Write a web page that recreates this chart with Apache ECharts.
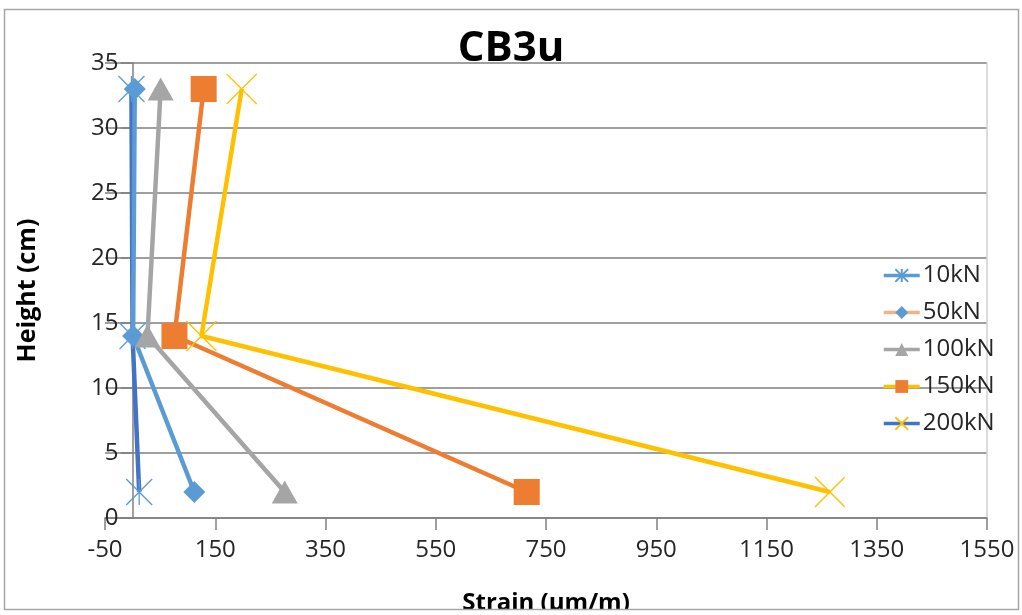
<!DOCTYPE html>
<html>
<head>
<meta charset="utf-8">
<script src="https://cdn.jsdelivr.net/npm/echarts@6/dist/echarts.min.js"></script>
<style>
html,body{margin:0;padding:0;background:#fff;}
#chart{width:1022px;height:615px;}
</style>
</head>
<body>
<div id="chart"></div>
<script>
// ---- data ----
const heights = [2, 14, 33];
const strain10kN  = [12, 0, -2];
const strain50kN  = [112, 1, 4];
const strain100kN = [276, 27, 51];
const strain150kN = [715, 76, 129];
const strain200kN = [1265, 125, 198];
const seriesNames = ['10kN', '50kN', '100kN', '150kN', '200kN'];
const xTicks = {min: -50, max: 1550, interval: 200};
const yTicks = {min: 0, max: 35, interval: 5};

const FONT = '"Open Sans", "Noto Sans", sans-serif';
const C_DARKBLUE = '#4472C4', C_BLUE = '#5B9BD5', C_GRAY = '#A5A5A5', C_ORANGE = '#ED7D31', C_YELLOW = '#FFC000';

function pts(xs) { return xs.map((x, i) => [x, heights[i]]); }

const ASTERISK = 'path://M5,0 L5,10 M0,0 L10,10 M10,0 L0,10';
const XMARK = 'path://M0,0 L10,10 M10,0 L0,10';
const LW = 4.5;

const series = [
  {name: seriesNames[0], data: pts(strain10kN), symbol: ASTERISK, symbolSize: 26,
   lineStyle: {color: C_DARKBLUE, width: LW},
   itemStyle: {color: C_BLUE, borderColor: C_BLUE, borderWidth: 1.3}},
  {name: seriesNames[1], data: pts(strain50kN), symbol: 'diamond', symbolSize: 22,
   lineStyle: {color: C_BLUE, width: LW},
   itemStyle: {color: C_BLUE}},
  {name: seriesNames[2], data: pts(strain100kN), symbol: 'triangle', symbolSize: [26, 23],
   lineStyle: {color: C_GRAY, width: LW},
   itemStyle: {color: C_GRAY}},
  {name: seriesNames[3], data: pts(strain150kN), symbol: 'rect', symbolSize: 26,
   lineStyle: {color: C_ORANGE, width: LW},
   itemStyle: {color: C_ORANGE}},
  {name: seriesNames[4], data: pts(strain200kN), symbol: XMARK, symbolSize: 30,
   lineStyle: {color: C_YELLOW, width: LW},
   itemStyle: {color: C_YELLOW, borderColor: C_YELLOW, borderWidth: 1.3}}
].map(s => Object.assign({type: 'line', showSymbol: true, animation: false, z: 3}, s));

// legend line colours as shown in the reference legend
const legendLineColors = [C_BLUE, '#F4B183', C_GRAY, C_YELLOW, C_DARKBLUE];

const chart = echarts.init(document.getElementById('chart'));
const option = {
  backgroundColor: '#fff',
  animation: false,
  title: {
    text: 'CB3u', left: 'center', top: 23,
    textStyle: {fontFamily: FONT, fontSize: 42, fontWeight: 'bold', color: '#000'}
  },
  grid: {left: 105, right: 35, top: 63, bottom: 97, containLabel: false, outerBoundsMode: 'none'},
  legend: {
    orient: 'vertical', left: 877, top: 256, itemWidth: 36, itemHeight: 16, itemGap: 8,
    textStyle: {fontFamily: FONT, fontSize: 24, color: '#262626', lineHeight: 29, padding: [0,0,0,-2]},
    data: seriesNames.map((n, i) => ({name: n, lineStyle: {color: legendLineColors[i], width: 3.5}}))
  },
  xAxis: {
    type: 'value', min: xTicks.min, max: xTicks.max, interval: xTicks.interval,
    name: 'Strain (µm/m)', nameLocation: 'middle', nameGap: 73,
    nameTextStyle: {fontFamily: FONT, fontSize: 24, fontWeight: 'bold', color: '#000'},
    axisLine: {show: true, onZero: false, lineStyle: {color: '#808080', width: 1.5}},
    axisTick: {show: true, length: 12, lineStyle: {color: '#808080', width: 1.5}},
    axisLabel: {fontFamily: FONT, fontSize: 24, color: '#262626', margin: 20,
                formatter: v => String(v)},
    splitLine: {show: false}
  },
  yAxis: [{
    type: 'value', min: yTicks.min, max: yTicks.max, interval: yTicks.interval,
    name: 'Height (cm)', nameLocation: 'middle', nameGap: 92,
    nameTextStyle: {fontFamily: FONT, fontSize: 25, fontWeight: 'bold', color: '#000'},
    axisLine: {show: true, onZero: false, lineStyle: {color: '#808080', width: 1.5}},
    axisTick: {show: true, length: 12, lineStyle: {color: '#808080', width: 1.5}},
    axisLabel: {fontFamily: FONT, fontSize: 24, color: '#262626', margin: 14,
                formatter: v => String(v)},
    splitLine: {show: true, lineStyle: {color: '#7f7f7f', width: 1.5}}
  }, {
    type: 'value', position: 'right', min: yTicks.min, max: yTicks.max, interval: yTicks.interval,
    axisLine: {show: true, onZero: false, lineStyle: {color: '#d0d0d0', width: 1.5}},
    axisTick: {show: false}, axisLabel: {show: false}, splitLine: {show: false}
  }],
  series: series,
  graphic: [
    {type: 'rect', z: 100, shape: {x: 0, y: 609, width: 1022, height: 6}, style: {fill: '#fff'}},
    {type: 'rect', z: 101, shape: {x: 4.5, y: 9.5, width: 1014, height: 600}, style: {fill: 'none', stroke: '#a6a6a6', lineWidth: 1.5}}
  ]
};
chart.setOption(option);

// place the vertical axis at strain = 0 (where it crosses in the reference)
const pxZero = chart.convertToPixel({xAxisIndex: 0}, 0);
const pxMin = chart.convertToPixel({xAxisIndex: 0}, xTicks.min);
const shift = pxZero - pxMin;
chart.setOption({yAxis: [{offset: -shift}, {}]});
</script>
</body>
</html>
